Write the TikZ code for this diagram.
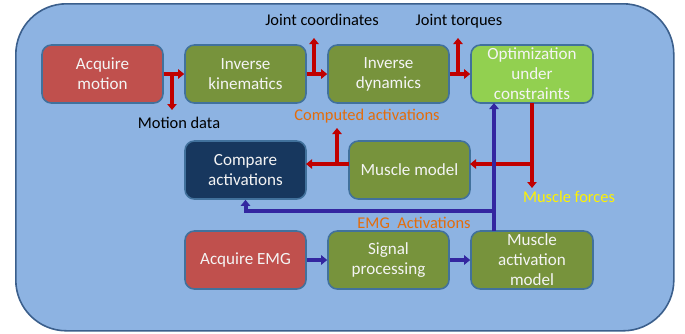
\documentclass[tikz,border=0pt]{standalone}
\usepackage{fontspec}
\setmainfont{Carlito}
\usetikzlibrary{arrows.meta}
\definecolor{bgfill}{HTML}{8DB3E2}
\definecolor{bgline}{HTML}{3B5F8C}
\definecolor{boxline}{HTML}{41719C}
\definecolor{redbox}{HTML}{C0504D}
\definecolor{greenbox}{HTML}{77933C}
\definecolor{lightgreen}{HTML}{92D050}
\definecolor{navybox}{HTML}{17375E}
\definecolor{arrred}{HTML}{C00000}
\definecolor{arrblue}{HTML}{3326A0}
\definecolor{lblorange}{HTML}{E46C0A}
\definecolor{boxtext}{HTML}{F4F4F4}
\tikzset{
  procbox/.style={draw=boxline, line width=1.2pt, rounded corners=7pt, text=boxtext,
    minimum width=90.75pt, minimum height=43.5pt, align=center, inner sep=1pt,
    font=\fontsize{12.8}{15}\selectfont},
  redarr/.style={draw=arrred, line width=3pt, -{Triangle[width=7pt,length=4.5pt]}},
  bluearr/.style={draw=arrblue, line width=3pt, -{Triangle[width=7pt,length=4.5pt]}},
  lbl/.style={font=\fontsize{12.3}{14}\selectfont, inner sep=0pt}
}
\begin{document}
\begin{tikzpicture}[x=0.75pt,y=-0.75pt]
\useasboundingbox (0,0) rectangle (685,333);
\node[draw=bgline, line width=1.2pt, fill=bgfill, rounded corners=38pt, minimum width=493.5pt, minimum height=245.25pt, anchor=north west] (bg) at (15,3) {};
% boxes
\node[procbox, fill=redbox] (am) at (102.5,74) {Acquire\\motion};
\node[procbox, fill=greenbox] (ik) at (245.5,74) {Inverse\\kinematics};
\node[procbox, fill=greenbox] (id) at (388.5,74) {Inverse\\dynamics};
\node[procbox, fill=lightgreen, minimum width=91.5pt] (opt) at (532,74) {Optimization\\under\\constraints};
\node[procbox, fill=navybox] (cmp) at (245.5,170) {Compare\\activations};
\node[procbox, fill=greenbox] (mm) at (409.5,170) {Muscle model};
\node[procbox, fill=redbox] (emg) at (245.5,260) {Acquire EMG};
\node[procbox, fill=greenbox] (sp) at (388.5,260) {Signal\\processing};
\node[procbox, fill=greenbox, minimum width=91.5pt] (mam) at (532,260) {Muscle\\activation\\model};
% labels
\node[lbl, text=black] (lmd) at (179,123) {Motion data};
\node[lbl, text=black] (ljc) at (322,20) {Joint coordinates};
\node[lbl, text=black] (ljt) at (459,21) {Joint torques};
\node[lbl, text=lblorange] (lca) at (367,116) {Computed activations};
\node[lbl, text=yellow] (lmf) at (569,197) {Muscle forces};
\node[lbl, text=lblorange] (lea) at (414,223) {EMG\ \ Activations};
% coordinates
\coordinate (b1) at (172,74);
\coordinate (b1e) at (172,110);
\coordinate (b2) at (314,74);
\coordinate (b2e) at (314,38);
\coordinate (b3) at (458,74);
\coordinate (b3e) at (458,38);
\coordinate (ofs) at (532,103);
\coordinate (mf) at (532,188);
\coordinate (r1) at (532,164);
\coordinate (r2) at (470,164);
\coordinate (r3) at (349,164);
\coordinate (r4) at (306,164);
\coordinate (b4) at (337,164);
\coordinate (b4e) at (337,128);
\coordinate (u1) at (494,231);
\coordinate (u2) at (494,103);
\coordinate (j1) at (494,211);
\coordinate (j2) at (245.5,211);
% red arrows
\draw[redarr] (am.east) -- (ik.west);
\draw[redarr] (b1) -- (b1e);
\draw[redarr] (ik.east) -- (id.west);
\draw[redarr] (b2) -- (b2e);
\draw[redarr] (id.east) -- (opt.west);
\draw[redarr] (b3) -- (b3e);
\draw[redarr] (ofs) -- (mf);
\draw[redarr] (r1) -- (r2);
\draw[redarr] (r3) -- (r4);
\draw[redarr] (b4) -- (b4e);
% blue arrows
\draw[bluearr] (u1) -- (u2);
\draw[bluearr] (j1) -- (j2) -- (cmp.south);
\draw[bluearr] (emg.east) -- (sp.west);
\draw[bluearr] (sp.east) -- (mam.west);
\end{tikzpicture}
\end{document}
